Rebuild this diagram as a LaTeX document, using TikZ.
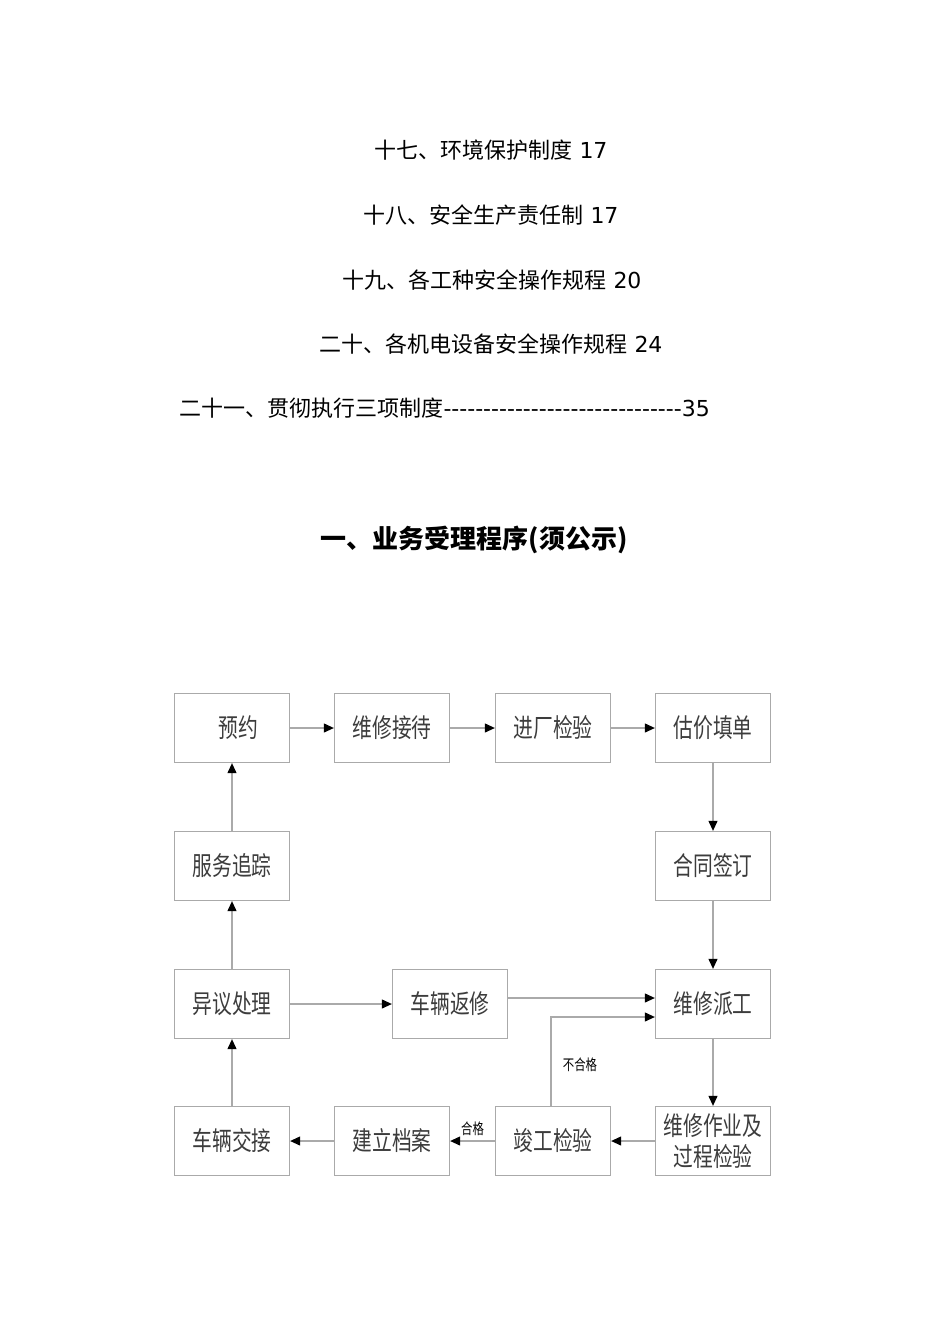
\documentclass[tikz,border=0pt]{standalone}
\usepackage{fontspec}
\setmainfont{Noto Sans CJK SC}
\newfontfamily\latin{DejaVu Sans}
\usetikzlibrary{arrows.meta,positioning}
\definecolor{boxline}{RGB}{170,170,170}
\definecolor{boxtext}{RGB}{60,60,60}
\newcommand{\narrow}[1]{\scalebox{0.76}[1]{#1}}

\begin{document}
\begin{tikzpicture}[x=1pt,y=-1pt,
  box/.style={draw=boxline,line width=1.3pt,minimum width=115pt,minimum height=69pt,inner sep=0pt,
    text=boxtext,font=\fontsize{26}{30}\selectfont,align=center},
  flow/.style={draw=boxline,line width=1.1pt,-{Triangle[length=10pt,width=9pt,color=black]}},
  toc/.style={font=\fontsize{22}{26}\selectfont}]
  \useasboundingbox (0,0) rectangle (950,1344);
  % contents lines
  \node[toc] (l17) at (491,150) {十七、环境保护制度{\latin\ 17}};
  \node[toc] (l18) at (491,215) {十八、安全生产责任制{\latin\ 17}};
  \node[toc] (l19) at (492,280) {十九、各工种安全操作规程{\latin\ 20}};
  \node[toc] (l20) at (491,344) {二十、各机电设备安全操作规程{\latin\ 24}};
  \node[toc,anchor=west] (l21) at (176,408) {二十一、贯彻执行三项制度{\latin ------------------------------35}};
  \node[font=\fontsize{26}{30}\selectfont\bfseries] (title) at (474,540) {一、业务受理程序(须公示)};
  % boxes
  \node[box] (yuyue) at (232,728) {\hspace{12pt}\narrow{预约}};
  \node[box] (jiedai) at (392,728) {\narrow{维修接待}};
  \node[box] (jinchang) at (553,728) {\narrow{进厂检验}};
  \node[box] (gujia) at (713,728) {\narrow{估价填单}};
  \node[box] (zhuizong) at (232,866) {\narrow{服务追踪}};
  \node[box] (hetong) at (713,866) {\narrow{合同签订}};
  \node[box] (yiyi) at (232,1004) {\narrow{异议处理}};
  \node[box] (fanxiu) at (450,1004) {\narrow{车辆返修}};
  \node[box] (paigong) at (713,1004) {\narrow{维修派工}};
  \node[box] (jiaojie) at (232,1141) {\narrow{车辆交接}};
  \node[box] (dangan) at (392,1141) {\narrow{建立档案}};
  \node[box] (jungong) at (553,1141) {\narrow{竣工检验}};
  \node[box,font=\fontsize{26}{33}\selectfont] (zuoye) at (713,1141) {\narrow{维修作业及}\\[-2pt]\narrow{过程检验}};
  % connectors
  \draw[flow] (yuyue) -- (jiedai);
  \draw[flow] (jiedai) -- (jinchang);
  \draw[flow] (jinchang) -- (gujia);
  \draw[flow] (gujia) -- (hetong);
  \draw[flow] (hetong) -- (paigong);
  \draw[flow] (paigong) -- (zuoye);
  \draw[flow] (zuoye) -- (jungong);
  \draw[flow] (jungong) -- node[above=1pt,font=\fontsize{15}{18}\selectfont] (hege) {\narrow{合格}} (dangan);
  \draw[flow] (dangan) -- (jiaojie);
  \draw[flow] (jiaojie) -- (yiyi);
  \draw[flow] (yiyi) -- (zhuizong);
  \draw[flow] (zhuizong) -- (yuyue);
  \draw[flow] (yiyi) -- (fanxiu);
  \draw[flow] ([yshift=6pt]fanxiu.east) -- ([yshift=6pt]paigong.west);
  \draw[flow] ([xshift=-2pt]jungong.north) |- ([yshift=-13pt]paigong.west);
  \node[font=\fontsize{15}{18}\selectfont] (buhege) at (580,1065) {\narrow{不合格}};
\end{tikzpicture}
\end{document}
